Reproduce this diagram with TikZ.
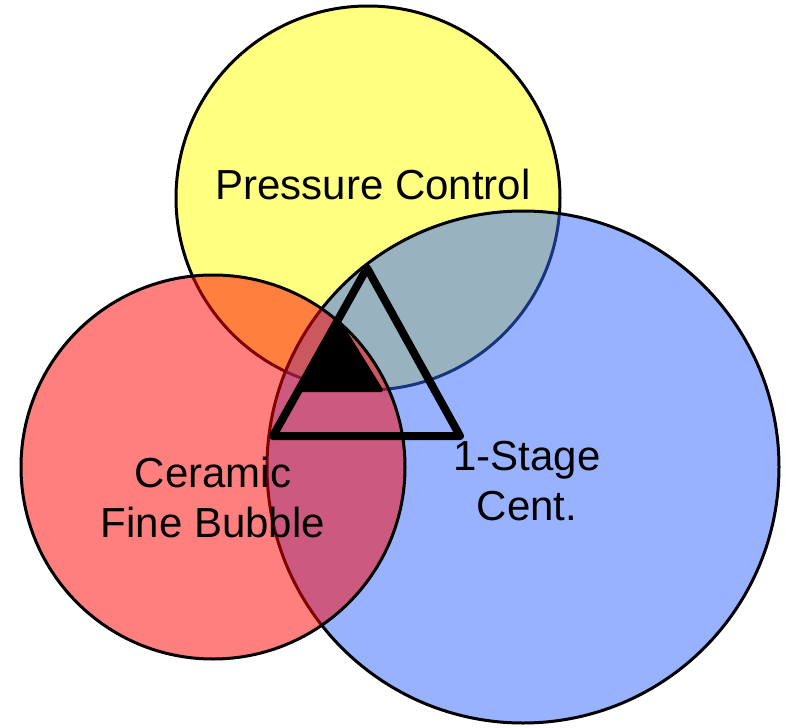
\documentclass[tikz,border=0pt]{standalone}
\usepackage{fontspec}
\setmainfont{Liberation Sans}
\begin{document}
\begin{tikzpicture}[x=1pt,y=-1pt,
  ring/.style={draw=black,line width=3pt},
  label/.style={align=center,font=\fontsize{42}{50}\selectfont,inner sep=0pt},
  frame/.style={draw=black,line width=8pt,line join=round}]
\useasboundingbox (0,0) rectangle (796,728);
\definecolor{sunyellow}{HTML}{FFFF80}
\definecolor{skyblue}{HTML}{3366FF}
% the three sets
\filldraw[ring,fill=sunyellow] (368,198) circle[radius=192];
\filldraw[ring,fill=skyblue,fill opacity=0.5] (523,467) circle[radius=256];
\filldraw[ring,fill=red,fill opacity=0.5] (213,467) circle[radius=192];
% target triangle and its filled corner
\coordinate (apex) at (367,268);
\coordinate (bl) at (273,436);
\coordinate (br) at (460,436);
\draw[frame] (apex) -- (bl) -- (br) -- cycle;
\coordinate (sa) at (339,322);
\coordinate (sl) at (301,390);
\coordinate (sr) at (381,390);
\filldraw[black,line width=4pt,line join=round] (sa) -- (sl) -- (sr) -- cycle;
% labels (base anchor sits on the last line)
\node[label,anchor=base] (pc) at (373,199) {Pressure Control};
\node[label,anchor=base] (cf) at (213,537) {Ceramic\\Fine Bubble};
\node[label,anchor=base] (sc) at (527,520) {1-Stage\\Cent.};
\end{tikzpicture}
\end{document}
